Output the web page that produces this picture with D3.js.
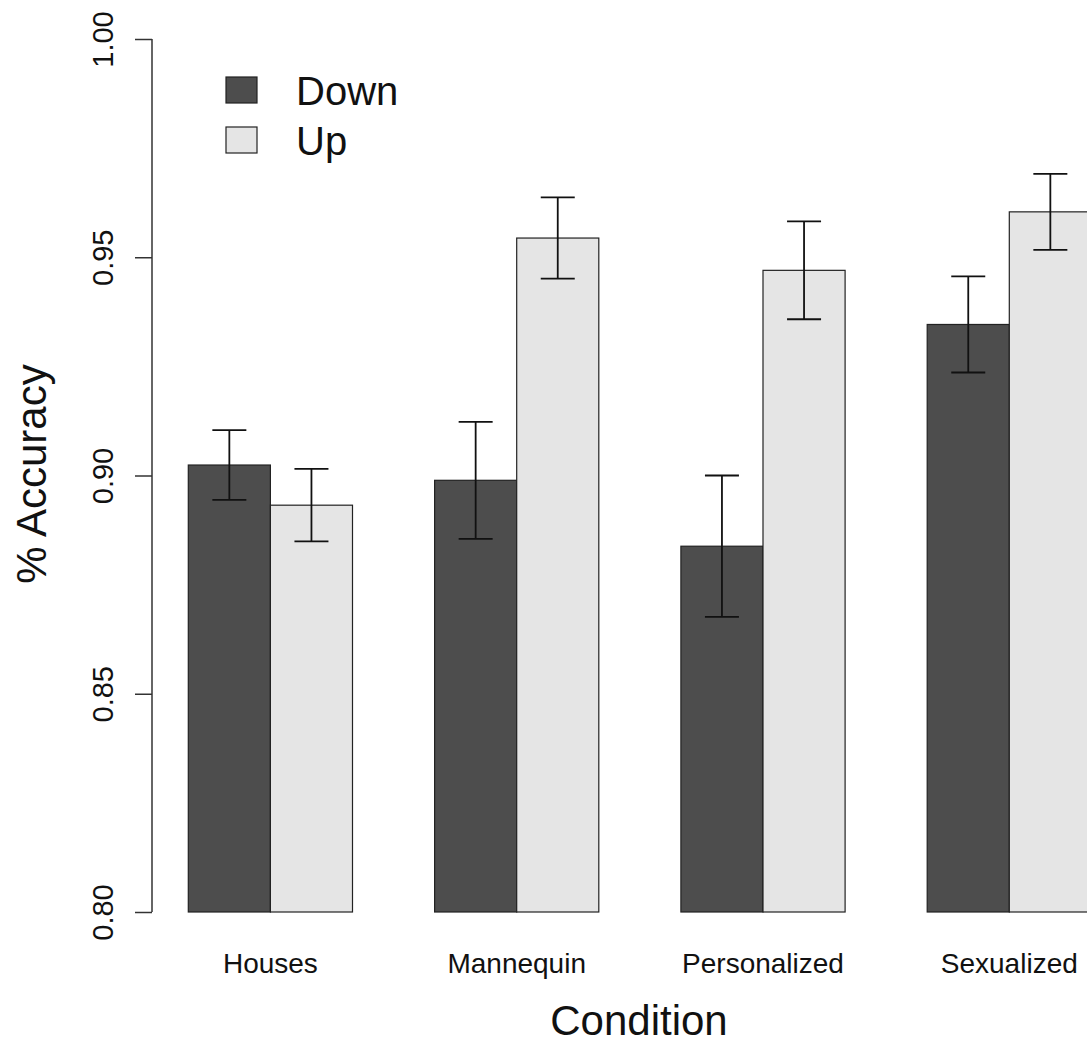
<!DOCTYPE html>
<html>
<head>
<meta charset="utf-8">
<script src="https://cdn.jsdelivr.net/npm/d3@7"></script>
<style>
  body { margin: 0; background: #fff; }
  svg { display: block; font-family: "Liberation Sans", Arial, sans-serif; }
</style>
</head>
<body>
<div id="chart"></div>
<script>
var categories = ["Houses", "Mannequin", "Personalized", "Sexualized"];
var series = ["Down", "Up"];
var downMean = [0.9024, 0.8989, 0.8838, 0.9346];
var upMean = [0.8932, 0.9544, 0.9470, 0.9604];
var downSE = [0.0080, 0.0134, 0.0162, 0.0110];
var upSE = [0.0083, 0.0093, 0.0112, 0.0087];
var yTicks = [0.80, 0.85, 0.90, 0.95, 1.00];

var width = 1087, height = 1045;
var fills = { Down: "#4d4d4d", Up: "#e5e5e5" };

var svg = d3.select("#chart").append("svg")
    .attr("width", width)
    .attr("height", height);

svg.append("rect").attr("width", width).attr("height", height).attr("fill", "#fff");

// barplot-style units: each group = 1 gap + 2 bars
var x = d3.scaleLinear().domain([0, 12]).range([106.2, 1091.4]);
var y = d3.scaleLinear().domain([0.80, 1.00]).range([912, 39]);

var bars = [];
categories.forEach(function (c, g) {
    bars.push({ cat: c, s: "Down", pos: 3 * g + 1, v: downMean[g], se: downSE[g] });
    bars.push({ cat: c, s: "Up", pos: 3 * g + 2, v: upMean[g], se: upSE[g] });
});

svg.append("g")
    .selectAll("rect")
    .data(bars)
    .enter().append("rect")
    .attr("x", function (d) { return x(d.pos); })
    .attr("y", function (d) { return y(d.v); })
    .attr("width", function (d) { return x(d.pos + 1) - x(d.pos); })
    .attr("height", function (d) { return y(0.80) - y(d.v); })
    .attr("fill", function (d) { return fills[d.s]; })
    .attr("stroke", "#222")
    .attr("stroke-width", 1.2);

// error bars
var cap = 17;
var err = svg.append("g").attr("stroke", "#111").attr("stroke-width", 1.8).attr("fill", "none");
bars.forEach(function (d) {
    var cx = x(d.pos + 0.5);
    var top = y(d.v + d.se), bot = y(d.v - d.se);
    err.append("line").attr("x1", cx).attr("x2", cx).attr("y1", top).attr("y2", bot);
    err.append("line").attr("x1", cx - cap).attr("x2", cx + cap).attr("y1", top).attr("y2", top);
    err.append("line").attr("x1", cx - cap).attr("x2", cx + cap).attr("y1", bot).attr("y2", bot);
});

// y axis
var yAxis = svg.append("g")
    .attr("transform", "translate(152,0)")
    .call(d3.axisLeft(y).tickValues(yTicks).tickSize(17).tickFormat(d3.format(".2f")));
yAxis.select(".domain").attr("d", "M0," + y(0.80) + "V" + y(1.00)).attr("stroke", "#333").attr("stroke-width", 1.5);
yAxis.selectAll(".tick line").attr("stroke", "#333").attr("stroke-width", 1.5);
yAxis.selectAll(".tick text")
    .attr("font-size", 29)
    .attr("font-family", "Liberation Sans, Arial, sans-serif")
    .attr("fill", "#111")
    .attr("text-anchor", "middle")
    .attr("dy", 0)
    .attr("x", 0)
    .attr("transform", "translate(-39,0) rotate(-90)");

// category labels
svg.append("g")
    .selectAll("text")
    .data(categories)
    .enter().append("text")
    .attr("x", function (d, g) { return x(3 * g + 2); })
    .attr("y", 973)
    .attr("text-anchor", "middle")
    .attr("font-size", 28)
    .attr("fill", "#111")
    .text(function (d) { return d; });

// axis titles
svg.append("text")
    .attr("x", 639).attr("y", 1035)
    .attr("text-anchor", "middle")
    .attr("font-size", 42)
    .attr("fill", "#111")
    .text("Condition");

svg.append("text")
    .attr("transform", "translate(46,474) rotate(-90)")
    .attr("text-anchor", "middle")
    .attr("font-size", 42)
    .attr("fill", "#111")
    .text("% Accuracy");

// legend
var legend = svg.append("g")
    .selectAll("g")
    .data(series)
    .enter().append("g")
    .attr("transform", function (d, i) { return "translate(226," + (77 + i * 50) + ")"; });
legend.append("rect")
    .attr("width", 31).attr("height", 26)
    .attr("fill", function (d) { return fills[d]; })
    .attr("stroke", "#222").attr("stroke-width", 1.2);
legend.append("text")
    .attr("x", 70).attr("y", 28)
    .attr("font-size", 40)
    .attr("fill", "#111")
    .text(function (d) { return d; });
</script>
</body>
</html>
